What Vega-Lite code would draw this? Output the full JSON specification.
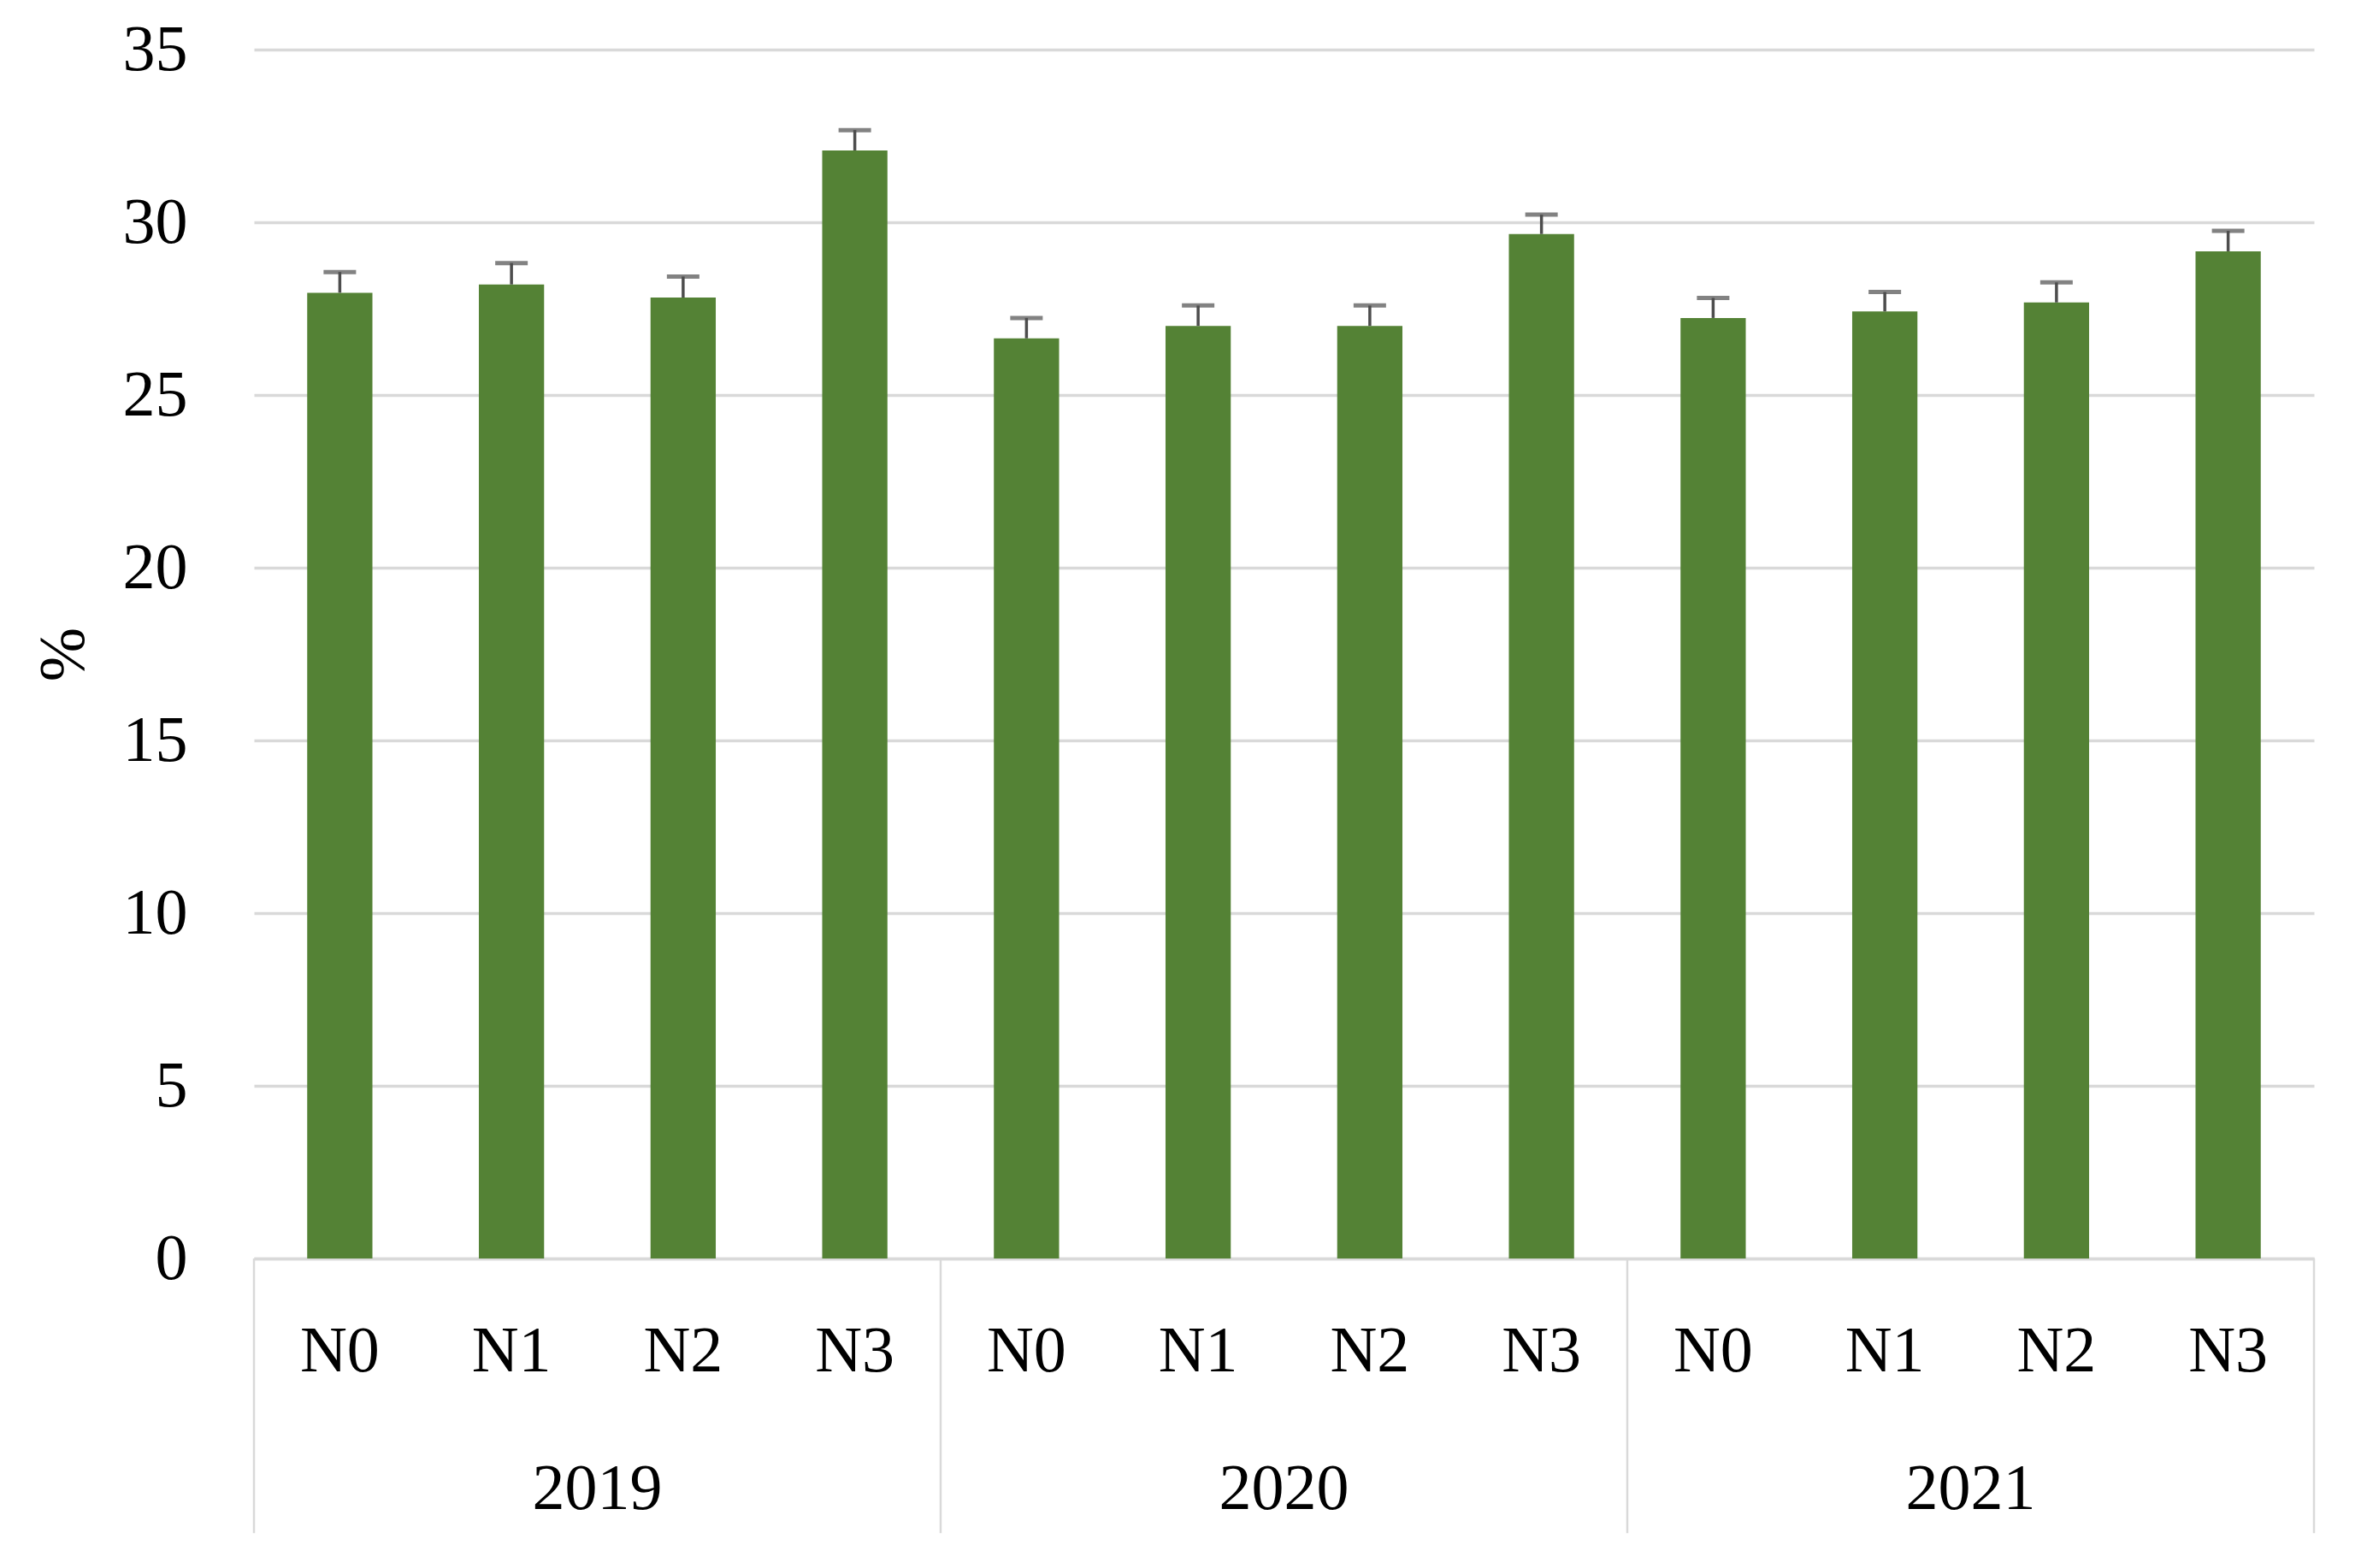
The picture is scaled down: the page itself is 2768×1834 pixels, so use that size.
{
  "$schema": "https://vega.github.io/schema/vega-lite/v6.json",
  "width": 2409,
  "height": 1414,
  "autosize": {"type": "none"},
  "padding": {"left": 297, "top": 58, "right": 62, "bottom": 362},
  "background": "white",
  "config": {"view": {"stroke": null}, "font": "Liberation Serif"},
  "datasets": {
    "bars": [
      {"year": "2019", "n": "N0", "key": "2019-N0", "value": 27.96, "upper": 28.56},
      {"year": "2019", "n": "N1", "key": "2019-N1", "value": 28.2, "upper": 28.82},
      {"year": "2019", "n": "N2", "key": "2019-N2", "value": 27.82, "upper": 28.43},
      {"year": "2019", "n": "N3", "key": "2019-N3", "value": 32.08, "upper": 32.67},
      {"year": "2020", "n": "N0", "key": "2020-N0", "value": 26.64, "upper": 27.23},
      {"year": "2020", "n": "N1", "key": "2020-N1", "value": 27.0, "upper": 27.59},
      {"year": "2020", "n": "N2", "key": "2020-N2", "value": 27.0, "upper": 27.59},
      {"year": "2020", "n": "N3", "key": "2020-N3", "value": 29.66, "upper": 30.22},
      {"year": "2021", "n": "N0", "key": "2021-N0", "value": 27.23, "upper": 27.81},
      {"year": "2021", "n": "N1", "key": "2021-N1", "value": 27.42, "upper": 27.98},
      {"year": "2021", "n": "N2", "key": "2021-N2", "value": 27.68, "upper": 28.26},
      {"year": "2021", "n": "N3", "key": "2021-N3", "value": 29.16, "upper": 29.75}
    ],
    "years": [
      {"year": "2019", "start": "2019-N0", "mid": "2019-N1"},
      {"year": "2020", "start": "2020-N0", "mid": "2020-N1"},
      {"year": "2021", "start": "2021-N0", "mid": "2021-N1"}
    ],
    "end": [{"key": "2021-N3"}]
  },
  "layer": [
    {
      "data": {"name": "bars"},
      "mark": {"type": "bar", "color": "#548235", "width": {"band": 0.38}},
      "encoding": {
        "x": {
          "field": "key",
          "type": "nominal",
          "sort": null,
          "scale": {
            "domain": ["2019-N0", "2019-N1", "2019-N2", "2019-N3", "2020-N0", "2020-N1", "2020-N2", "2020-N3", "2021-N0", "2021-N1", "2021-N2", "2021-N3"],
            "paddingInner": 0,
            "paddingOuter": 0
          },
          "axis": {
            "title": null,
            "labelExpr": "split(datum.value, '-')[1]",
            "labelAngle": 0,
            "labelFontSize": 76,
            "labelColor": "#000000",
            "labelBaseline": "middle",
            "labelPadding": 108,
            "ticks": false,
            "domainColor": "#d9d9d9",
            "domainWidth": 3.5,
            "grid": false
          }
        },
        "y": {
          "field": "value",
          "type": "quantitative",
          "scale": {"domain": [0, 35], "nice": false},
          "axis": {
            "values": [0, 5, 10, 15, 20, 25, 30, 35],
            "title": "%",
            "titleFontSize": 76,
            "titleFontWeight": "normal",
            "titleColor": "#000000",
            "titlePadding": 30,
            "labelFontSize": 76,
            "labelColor": "#000000",
            "labelPadding": 78,
            "labelBaseline": "middle",
            "domain": false,
            "ticks": false,
            "grid": true,
            "gridColor": "#d9d9d9",
            "gridWidth": 3.5
          }
        }
      }
    },
    {
      "data": {"name": "bars"},
      "mark": {"type": "rule", "color": "#4d4d4d", "strokeWidth": 3.5},
      "encoding": {
        "x": {"field": "key", "type": "nominal", "sort": null},
        "y": {"field": "value", "type": "quantitative"},
        "y2": {"field": "upper"}
      }
    },
    {
      "data": {"name": "bars"},
      "mark": {"type": "tick", "color": "#4d4d4d", "size": 38, "thickness": 5},
      "encoding": {
        "x": {"field": "key", "type": "nominal", "sort": null},
        "y": {"field": "upper", "type": "quantitative"}
      }
    },
    {
      "data": {"name": "years"},
      "mark": {"type": "rule", "color": "#d9d9d9", "strokeWidth": 2.5},
      "encoding": {
        "x": {"field": "start", "type": "nominal", "bandPosition": 0},
        "y": {"datum": 0},
        "y2": {"datum": -7.95}
      }
    },
    {
      "data": {"name": "end"},
      "mark": {"type": "rule", "color": "#d9d9d9", "strokeWidth": 2.5},
      "encoding": {
        "x": {"field": "key", "type": "nominal", "bandPosition": 1},
        "y": {"datum": 0},
        "y2": {"datum": -7.95}
      }
    },
    {
      "data": {"name": "years"},
      "mark": {"type": "text", "fontSize": 76, "color": "#000000", "baseline": "middle", "align": "center"},
      "encoding": {
        "x": {"field": "mid", "type": "nominal", "bandPosition": 1},
        "y": {"datum": -6.68},
        "text": {"field": "year"}
      }
    }
  ]
}
